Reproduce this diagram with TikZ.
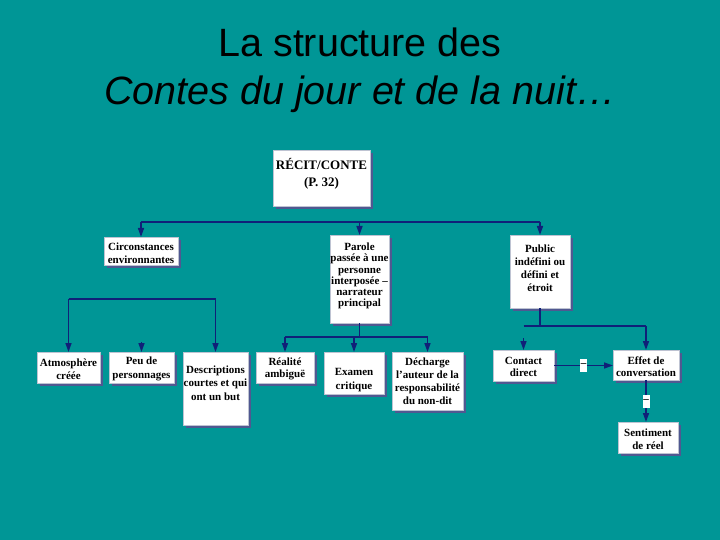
\documentclass[tikz,border=0pt]{standalone}
\usepackage{fontspec}
\setmainfont{Liberation Serif}
\newfontfamily\titlefont{Liberation Sans}
\usetikzlibrary{arrows.meta}
\definecolor{bgteal}{RGB}{0,150,150}
\definecolor{navyln}{RGB}{16,32,120}
\definecolor{shadowc}{RGB}{80,88,145}
\definecolor{boxedge}{RGB}{190,195,210}
\tikzset{
  boxn/.style={draw=boxedge, line width=0.4pt, fill=white, inner sep=0pt, outer sep=0pt},
  txt/.style={font=\bfseries\fontsize{11}{12.5}\selectfont, align=center, inner sep=0pt, text=black},
  ln/.style={draw=navyln, line width=1.5pt},
  arr/.style={ln, -{Triangle[width=6pt,length=9pt]}},
  lab/.style={fill=white, inner sep=0pt, minimum width=7pt, minimum height=13pt, font=\bfseries\fontsize{11}{11}\selectfont},
  ttl/.style={font=\titlefont\fontsize{39.5}{44}\selectfont, anchor=base, inner sep=0pt}
}
\newcommand\bx[8]{%
  \fill[shadowc] (#2+3,#3+3) rectangle (#4+3,#5+3);
  \node[boxn, minimum width={(#4-#2)*1pt}, minimum height={(#5-#3)*1pt}] (#1) at ({(#2+#4)/2},{(#3+#5)/2}) {};
  \node[txt, font=\bfseries\fontsize{11}{#7}\selectfont] (#1t) at ({(#2+#4)/2},#6) {#8};
}
\begin{document}
\begin{tikzpicture}[x=1pt,y=-1pt]
\fill[bgteal] (0,0) rectangle (720,540);
\useasboundingbox (0,0) rectangle (720,540);
% title
\node[ttl] (t1) at (360,57) {La structure des};
\node[ttl, font=\titlefont\itshape\fontsize{39.5}{44}\selectfont] (t2) at (360,105) {Contes du jour et de la nuit…};
% boxes
\fill[shadowc] (276,153) rectangle (373,209);
\node[boxn, minimum width=97pt, minimum height=56pt] (recit) at (321.5,178) {};
\node[txt, font=\bfseries\fontsize{13}{17}\selectfont] (recitt) at (321.5,174) {RÉCIT/CONTE\\(P. 32)};
\bx{circ}{104}{237}{178}{265}{253}{12.5}{Circonstances\\environnantes}
\bx{parole}{330}{235}{389}{323}{276}{11.2}{Parole\\passée à une\\personne\\interposée –\\narrateur\\principal}
\bx{public}{510}{235}{570}{308}{268}{13}{Public\\indéfini ou\\défini et\\étroit}
\bx{atmo}{37}{352}{100}{383}{369}{13.5}{Atmosphère\\créée}
\bx{peu}{109}{352}{174}{383}{369}{13.5}{Peu de\\personnages}
\bx{desc}{183}{352}{248}{425}{383}{13.5}{Descriptions\\courtes et qui\\ont un but}
\bx{real}{256}{352}{314}{383}{369}{12.5}{Réalité\\ambiguë}
\bx{exam}{324}{352}{384}{394}{380}{14.5}{Examen\\critique}
\bx{dech}{392}{352}{463}{410}{381}{13}{Décharge\\l'auteur de la\\responsabilité\\du non-dit}
\bx{contact}{493}{350}{554}{381}{367}{12.5}{Contact\\direct}
\bx{effet}{613}{350}{679}{380}{366.5}{12.5}{Effet de\\conversation}
\bx{sent}{618}{422}{678}{453}{439}{12.5}{Sentiment\\de réel}
% top bus
\coordinate (b1L) at (141,222);
\coordinate (b1R) at (540,222);
\draw[ln] (b1L) -- (b1R);
\draw[arr] (circ.north |- b1L) -- (circ.north);
\draw[arr] (parole.north |- b1L) -- (parole.north);
\draw[arr] (public.north |- b1L) -- (public.north);
% circonstances bus
\coordinate (b2L) at (68.5,299);
\coordinate (b2R) at (215.5,299);
\draw[ln] (b2L) -- (b2R);
\draw[arr] (b2L) -- (atmo.north);
\draw[arr] (b2R) -- (desc.north);
\coordinate (peustub) at (141.5,342);
\draw[arr] (peustub) -- (peu.north);
% parole bus
\coordinate (b3) at (359.5,337);
\coordinate (b3L) at (285,337);
\coordinate (b3R) at (427.5,337);
\draw[ln] (parole.south) -- (b3);
\draw[ln] (b3L) -- (b3R);
\draw[arr] (b3L) -- (real.north);
\draw[arr] (exam.north |- b3L) -- (exam.north);
\draw[arr] (b3R) -- (dech.north);
% public bus
\coordinate (b4) at (540,326);
\coordinate (b4L) at (523.5,326);
\coordinate (b4R) at (646,326);
\draw[ln] (public.south) -- (b4);
\draw[ln] (b4L) -- (b4R);
\coordinate (contstub) at (523.5,338);
\draw[arr] (contstub) -- (contact.north);
\draw[arr] (b4R) -- (effet.north);
% contact -> effet, effet -> sentiment
\draw[arr] (contact.east) -- (contact.east -| effet.west) node[lab, pos=0.5] (l1) {–};
\draw[arr] (effet.south) -- (effet.south |- sent.north) node[lab, pos=0.5] (l2) {–};
\end{tikzpicture}
\end{document}
